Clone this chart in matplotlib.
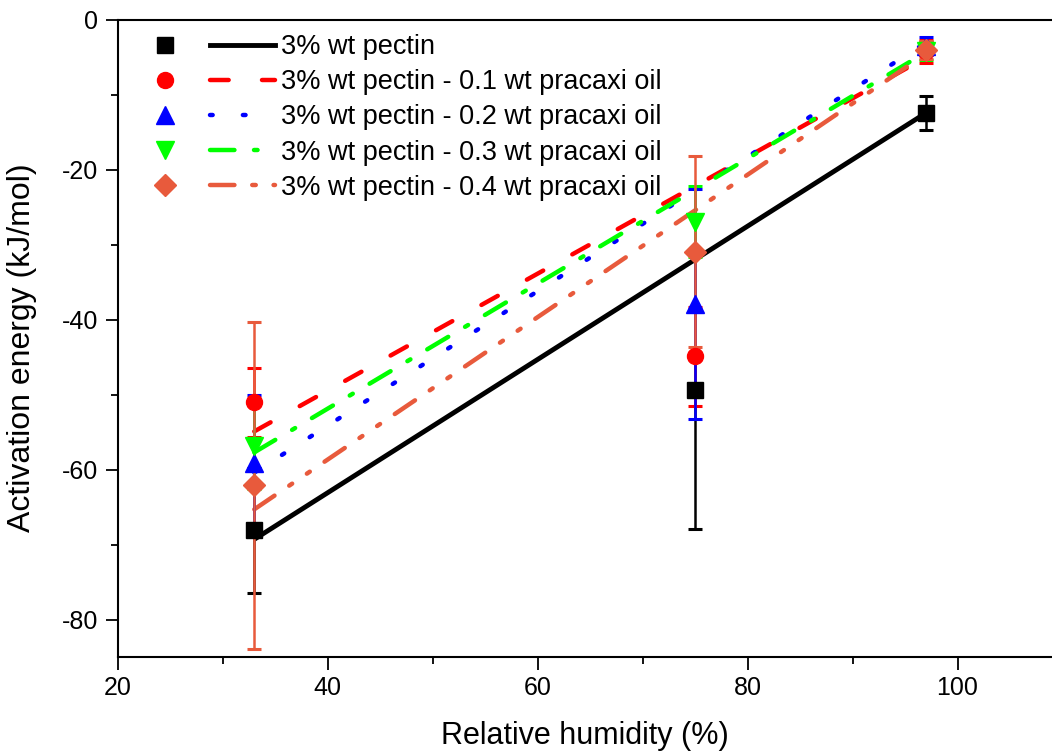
import numpy as np
import matplotlib
matplotlib.use("Agg")
import matplotlib.pyplot as plt
from matplotlib.lines import Line2D
from matplotlib.legend_handler import HandlerTuple
from matplotlib.ticker import MultipleLocator

plt.rcParams['font.family'] = ['Liberation Sans', 'DejaVu Sans']
plt.rcParams['axes.unicode_minus'] = False

# relative humidity (%)
rh = [33, 75, 97]

labels = ["3% wt pectin",
          "3% wt pectin - 0.1 wt pracaxi oil",
          "3% wt pectin - 0.2 wt pracaxi oil",
          "3% wt pectin - 0.3 wt pracaxi oil",
          "3% wt pectin - 0.4 wt pracaxi oil"]

# activation energy (kJ/mol) and its error
ea_0 = [-68.1, -49.4, -12.4]
err_0 = [8.3, 18.5, 2.3]
ea_1 = [-51.0, -44.9, -4.2]
err_1 = [4.6, 6.6, 1.5]
ea_2 = [-59.1, -37.9, -3.5]
err_2 = [9.0, 15.4, 1.2]
ea_3 = [-56.8, -26.9, -4.2]
err_3 = [5.8, 4.7, 1.2]
ea_4 = [-62.1, -30.9, -4.0]
err_4 = [21.8, 12.8, 1.2]

# fitted lines (values at 33 % and 97 % RH)
fit_x = [33, 97]
fit_0 = [-69.3, -12.4]
fit_1 = [-54.9, -5.0]
fit_2 = [-60.4, -3.0]
fit_3 = [-57.7, -4.3]
fit_4 = [-65.3, -4.5]

colors = ["black", "#ff0000", "#0000ff", "#00ff00", "#e85a3c"]
markers = ["s", "o", "^", "v", "D"]
msizes = [11, 11.5, 13, 13, 11]
styles = ["-", (0, (4.2, 7.5)), (0, (0.6, 6.8)), (0, (5.5, 4.4, 0.8, 4.4)),
          (0, (5.5, 4.0, 0.8, 4.0, 0.8, 4.0))]
lws = [3.5, 3.2, 3.2, 3.2, 3.2]

ys = [ea_0, ea_1, ea_2, ea_3, ea_4]
errs = [err_0, err_1, err_2, err_3, err_4]
fits = [fit_0, fit_1, fit_2, fit_3, fit_4]

fig = plt.figure(figsize=(10.52, 7.53), dpi=100)
ax = fig.add_axes([0.112, 0.1275, 0.888, 0.846])

handles = []
for i in range(5):
    ax.plot(fit_x, fits[i], color=colors[i], linestyle=styles[i], lw=lws[i],
            dash_capstyle="round", solid_capstyle="butt", zorder=2)
for i in range(5):
    ax.errorbar(rh, ys[i], yerr=errs[i], fmt="none", ecolor=colors[i],
                elinewidth=1.8, capsize=5, capthick=2.2, zorder=3 + i)
for i in range(5):
    ax.plot(rh, ys[i], linestyle="none", marker=markers[i], color=colors[i],
            markersize=msizes[i], zorder=10)
    m = Line2D([], [], linestyle="none", marker=markers[i], color=colors[i], markersize=msizes[i])
    l = Line2D([], [], linestyle=styles[i], color=colors[i], lw=lws[i], dash_capstyle="round")
    handles.append((m, l))

ax.set_xlim(20, 109)
ax.set_ylim(-85, 0)
ax.xaxis.set_major_locator(MultipleLocator(20))
ax.xaxis.set_minor_locator(MultipleLocator(10))
ax.yaxis.set_major_locator(MultipleLocator(20))
ax.yaxis.set_minor_locator(MultipleLocator(10))
ax.tick_params(which="both", direction="out", labelsize=18, width=1.3, pad=5)
ax.tick_params(which="major", length=9)
ax.tick_params(which="minor", length=5)
ax.spines["right"].set_visible(False)
for s in ["left", "bottom", "top"]:
    ax.spines[s].set_linewidth(1.5)

ax.set_xlabel("Relative humidity (%)", fontsize=22, labelpad=15)
ax.set_ylabel("Activation energy (kJ/mol)", fontsize=23)
ax.yaxis.set_label_coords(-0.086, 0.485)

ax.legend(handles, labels, handler_map={tuple: HandlerTuple(ndivide=None, pad=0.48)},
          loc="upper left", bbox_to_anchor=(0.0, 1.0), frameon=False, fontsize=19.5,
          handlelength=5.3, handletextpad=0.22, labelspacing=0.34, borderaxespad=0.12)

fig.savefig("out.png", dpi=100)
